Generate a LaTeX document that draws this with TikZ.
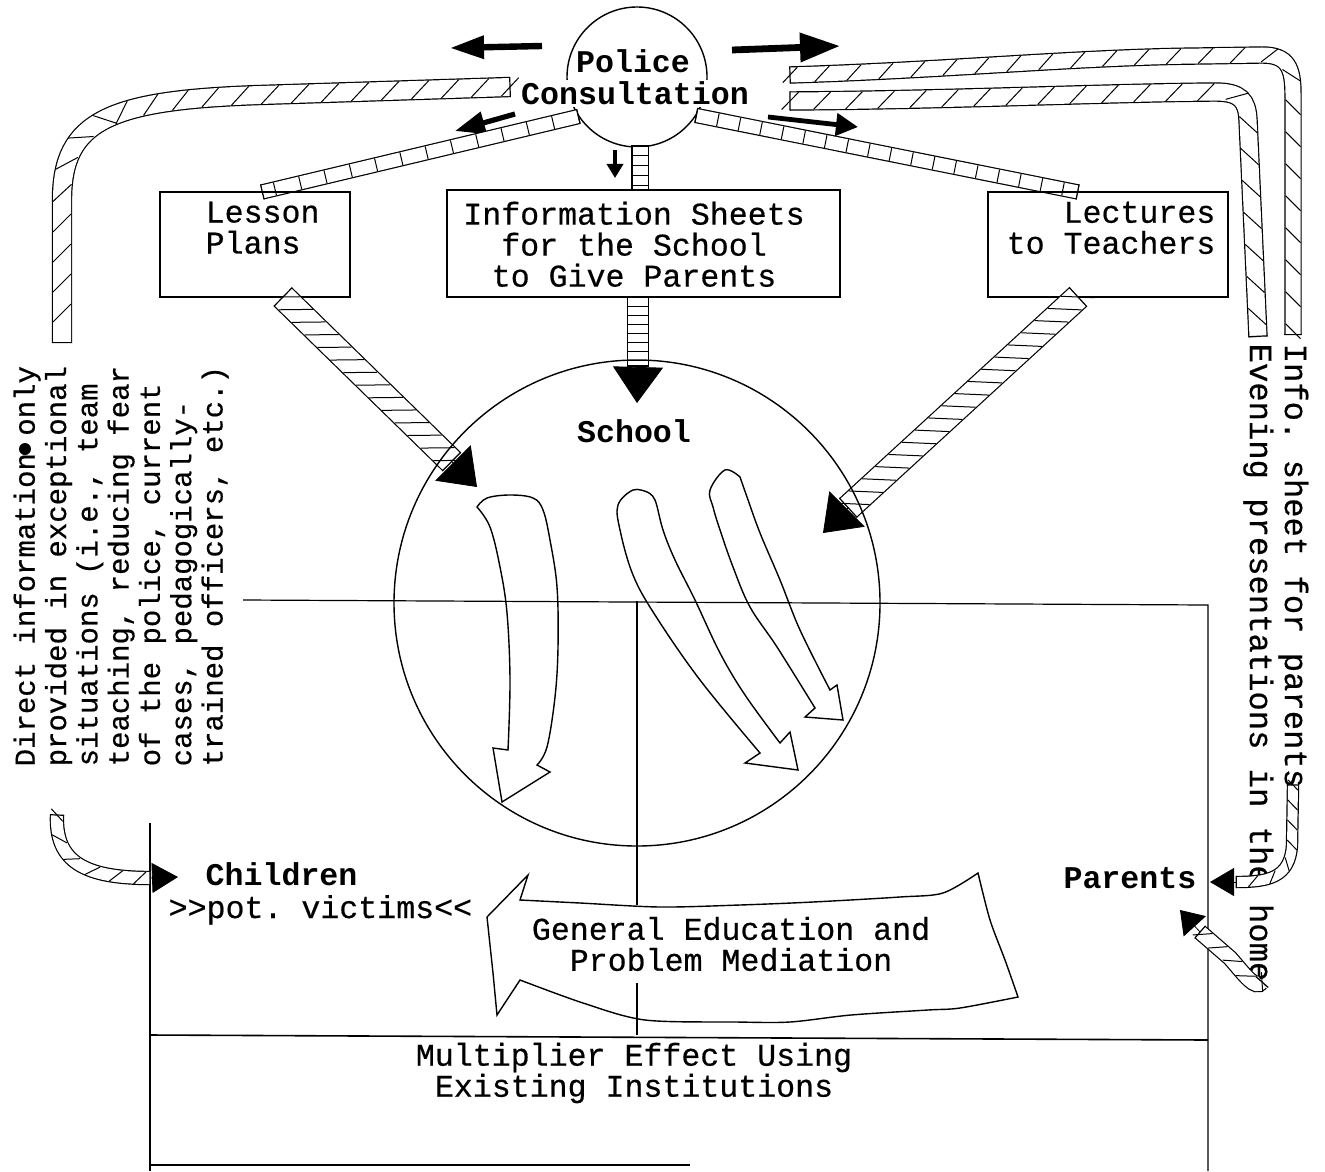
\documentclass[tikz,border=0pt]{standalone}
\usepackage{fontspec}
\setmonofont{Liberation Mono}[UprightFeatures={FakeBold=0.5}]
\usetikzlibrary{arrows.meta,decorations.markings}

\tikzset{
  txt/.style={font=\ttfamily\fontsize{15.8}{15.5}\selectfont, inner sep=0pt},
  boldtxt/.style={font=\ttfamily\bfseries\fontsize{15.8}{15.5}\selectfont, inner sep=0pt},
  box/.style={draw, line width=0.8pt, inner sep=0pt},
  band/.style={draw=black, line width=#1+1.2pt,
    postaction={draw=white, line width=#1},
    postaction={decorate, decoration={markings,
      mark=at position 0 with {\draw[black, line width=0.6pt] (0pt,{-#1/2-0.6pt}) -- (0pt,{#1/2+0.6pt});},
      mark=at position 0.999 with {\draw[black, line width=0.6pt] (0pt,{-#1/2-0.6pt}) -- (0pt,{#1/2+0.6pt});}}}},
  rungs/.style n args={3}{postaction={decorate, decoration={markings,
      mark=between positions 0 and 1 step #3 with {\draw[black, line width=0.5pt] ({#2*#1/2},{-#1/2}) -- ({-#2*#1/2},{#1/2});}}}},
  strip/.style n args={3}{band=#1, rungs={#1}{#2}{#3}},
  head/.style 2 args={line width=0.4pt, -{Triangle[length=#1,width=#2]}},
}

\begin{document}
\begin{tikzpicture}[x=0.5pt, y=-0.5pt, line width=0.7pt]
  \useasboundingbox (0,0) rectangle (1325,1171);

  % Police consultation
  \node[circle, draw, minimum size=70pt, inner sep=0pt] (police) at (637,77) {};
  \node[boldtxt, anchor=base] (policeA) at (633,73) {Police};
  \node[boldtxt, anchor=base, fill=white, inner sep=1pt] (policeB) at (635,105) {Consultation};

  % small black arrows round the circle
  \coordinate (a1s) at (542,46);  \coordinate (a1e) at (450,48);
  \coordinate (a2s) at (732,50);  \coordinate (a2e) at (840,46);
  \coordinate (a3s) at (515,114); \coordinate (a3e) at (455,131);
  \coordinate (a4s) at (768,117); \coordinate (a4e) at (858,127);
  \coordinate (a5s) at (615,150); \coordinate (a5e) at (615,178);
  \draw[line width=3.2pt, -{Triangle[length=17pt,width=11pt]}] (a1s) -- (a1e);
  \draw[line width=3.4pt, -{Triangle[length=20pt,width=14pt]}] (a2s) -- (a2e);
  \draw[line width=2.6pt, -{Triangle[length=15pt,width=11pt]}] (a3s) -- (a3e);
  \draw[line width=2.4pt, -{Triangle[length=11pt,width=11pt]}] (a4s) -- (a4e);
  \draw[line width=2pt, -{Triangle[length=7pt,width=8pt]}] (a5s) -- (a5e);

  % ladders out of the circle
  \coordinate (lp) at (police.214);
  \coordinate (lq) at (262,192);
  \coordinate (rp) at (police.327);
  \coordinate (rq) at (1078,192);
  \coordinate (vp) at (640,146);
  \coordinate (vq) at (640,190);
  \draw[strip={6.5pt}{0}{13pt}] (lp) -- (lq);
  \draw[strip={6.5pt}{0}{11pt}] (rp) -- (rq);
  \draw[strip={7.5pt}{0}{5pt}] (vp) -- (vq);

  % the three boxes
  \node[box, minimum width=95pt, minimum height=52.5pt] (lesson) at (255,244.5) {};
  \node[box, minimum width=196.5pt, minimum height=53.5pt] (info) at (643.5,243.5) {};
  \node[box, minimum width=120pt, minimum height=52.5pt] (lect) at (1108,244.5) {};
  \node[txt, align=left, anchor=north west] (lessontxt) at (205,201) {Lesson\\Plans};
  \node[txt, align=center, anchor=north] (infotxt) at (634,201) {Information Sheets\\for the School\\to Give Parents};
  \node[txt, align=right, anchor=north east] (lecttxt) at (1216,201) {Lectures\\to Teachers};

  % ladders into the school
  \coordinate (s1a) at (283,297); \coordinate (s1b) at (452,462); \coordinate (s1c) at (477,487);
  \coordinate (s2a) at (638,297); \coordinate (s2b) at (638,366); \coordinate (s2c) at (637,403);
  \coordinate (s3a) at (1078,297); \coordinate (s3b) at (848,508); \coordinate (s3c) at (823,533);
  \draw[strip={12pt}{-1}{9pt}] (s1a) -- (s1b);
  \draw[strip={10pt}{0}{4.5pt}] (s2a) -- (s2b);
  \draw[strip={12pt}{1}{9pt}] (s3a) -- (s3b);
  \draw[head={17pt}{25pt}] (s1b) -- (s1c);
  \draw[head={18pt}{25pt}] (s2b) -- (s2c);
  \draw[head={17pt}{25pt}] (s3b) -- (s3c);

  % frame lines
  \coordinate (hl) at (243,600);  \coordinate (hr) at (1208,605);
  \coordinate (rb) at (1208,1171);
  \coordinate (mt) at (637,601);  \coordinate (mb) at (637,1035);
  \coordinate (lt) at (150,823);  \coordinate (lb) at (150,1171);
  \coordinate (bl) at (150,1035); \coordinate (br) at (1208,1040);
  \coordinate (fl) at (150,1165); \coordinate (fr) at (690,1165);
  \draw[line width=0.6pt] (hl) -- (hr) -- (rb);
  \draw[line width=0.6pt] (mt) -- (mb);
  \draw[line width=0.6pt] (lt) -- (lb);
  \draw[line width=0.8pt] (bl) -- (br);
  \draw[line width=0.8pt] (fl) -- (fr);

  % the school
  \node[circle, draw, minimum size=243pt, inner sep=0pt] (school) at (637,603) {};
  \node[boldtxt, anchor=base] (schooltxt) at (634,442) {School};

  % hollow arrows inside the school
  \draw plot[smooth, tension=0.6] coordinates {(477,507) (490,527) (500,567) (507,613) (510,680) (508,750)}
    -- (493,748) -- (502,802) -- (550,772) -- (537,765)
    -- plot[smooth, tension=0.6] coordinates {(537,765) (547,747) (555,697) (558,647) (557,587) (550,540) (543,510) (533,498) (510,495) (487,498) (477,507)} -- cycle;
  \draw plot[smooth, tension=0.6] coordinates {(647,492) (633,490) (618,505) (620,530) (633,575) (655,615) (700,680) (760,753)}
    -- (745,763) -- (798,770) -- (790,732) -- (780,743)
    -- plot[smooth, tension=0.6] coordinates {(780,743) (745,695) (720,653) (695,600) (675,560) (663,530) (655,500) (647,492)} -- cycle;
  \draw plot[smooth, tension=0.6] coordinates {(740,477) (725,470) (710,490) (713,507) (720,530) (733,567) (750,607) (777,647) (815,708)}
    -- (805,717) -- (843,720) -- (837,685) -- (830,690)
    -- plot[smooth, tension=0.6] coordinates {(830,690) (800,630) (780,580) (760,533) (747,497) (740,477)} -- cycle;

  % general education arrow
  \node[txt, align=center, fill=white, inner xsep=3pt, inner ysep=6pt] (gen) at (731,944) {General Education and\\Problem Mediation};
  \draw plot[smooth, tension=0.5] coordinates {(520,900) (580,903) (660,907) (740,905) (813,902) (900,897) (943,893) (978,873)}
    -- plot[smooth] coordinates {(978,873) (990,920) (1005,960) (1018,997)}
    -- plot[smooth, tension=0.5] coordinates {(1018,997) (960,1008) (928,1010) (851,1015) (790,1022) (736,1022) (645,1020) (583,1003) (520,980)}
    -- (497,1015) -- (493,973) -- (487,917) -- (528,875) -- cycle;

  % children and parents
  \node[boldtxt, anchor=base west] (children) at (205,885) {Children};
  \node[txt, anchor=base west] (victims) at (168,918) {>>pot. victims<<};
  \node[boldtxt, anchor=base east] (parents) at (1197,888) {Parents};

  % bottom box
  \node[txt, align=center] (mult) at (634,1073) {Multiplier Effect Using\\Existing Institutions};

  % side notes
  \node[font=\ttfamily\fontsize{14.5}{15.65}\selectfont, inner sep=0pt, align=left, rotate=90, anchor=north west] (direct) at (13,767)
    {Direct information only\\provided in exceptional\\situations (i.e., team\\teaching, reducing fear\\of the police, current\\cases, pedagogically-\\trained officers, etc.)};
  \fill (25,449) circle (6);
  \node[font=\ttfamily\fontsize{16.1}{17.5}\selectfont, inner sep=0pt, align=left, rotate=-90, anchor=north west] (home) at (1309,343)
    {Info. sheet for parents\\Evening presentations in the home};

  % long hatched strips
  \coordinate (l1) at (510,87);  \coordinate (l2) at (260,95);
  \coordinate (l3) at (104.75,119.4); \coordinate (l4) at (62,200); \coordinate (l5) at (62,343);
  \draw[band=9pt] (l1) -- (l2) .. controls (185,97.5) and (135.5,103.75) .. (l3)
    .. controls (74,135) and (62,160) .. (l4) -- (l5);
  \path[rungs={9pt}{-1}{15pt}] (l1) -- (l2) .. controls (185,97.5) and (135.5,103.75) .. (l3);
  \path[rungs={9pt}{1}{15pt}] (l3) .. controls (74,135) and (62,160) .. (l4) -- (l5);

  \coordinate (u1) at (790,75);  \coordinate (u2) at (1262,55);
  \coordinate (u3) at (1293,95); \coordinate (u4) at (1293,335);
  \draw[strip={7.5pt}{-1}{16pt}] (u1) .. controls (950,70) and (1080,57) .. (1200,56) -- (u2)
    .. controls (1288,55) and (1293,68) .. (u3) -- (u4);

  \coordinate (w1) at (790,101); \coordinate (w2) at (1215,92);
  \coordinate (w3) at (1248,120); \coordinate (w4) at (1258,337);
  \draw[strip={8.5pt}{-1}{16pt}] (w1) .. controls (950,100) and (1100,93) .. (w2)
    .. controls (1240,92) and (1247,100) .. (w3) -- (w4);

  % short strips to children and parents
  \coordinate (c1) at (57,815); \coordinate (c2) at (150,878); \coordinate (c3) at (178,877);
  \draw[strip={6pt}{-1}{12pt}] (c1) .. controls (55,862) and (85,878) .. (c2);
  \draw[head={13pt}{15pt}] (c2) -- (c3);

  \coordinate (p1) at (1293,785); \coordinate (p2) at (1292,845);
  \coordinate (p3) at (1236,882); \coordinate (p4) at (1210,882);
  \draw[strip={5pt}{-1}{10pt}] (p1) -- (p2) .. controls (1290,878) and (1268,882) .. (p3);
  \draw[head={12pt}{14pt}] (p3) -- (p4);

  \coordinate (q1) at (1262,982); \coordinate (q2) at (1230,958);
  \coordinate (q3) at (1200,932); \coordinate (q4) at (1180,910);
  \draw[strip={7pt}{-1}{10pt}] (q1) .. controls (1255,990) and (1245,975) .. (q2) -- (q3);
  \draw[head={11pt}{15pt}] (q3) -- (q4);
\end{tikzpicture}
\end{document}
